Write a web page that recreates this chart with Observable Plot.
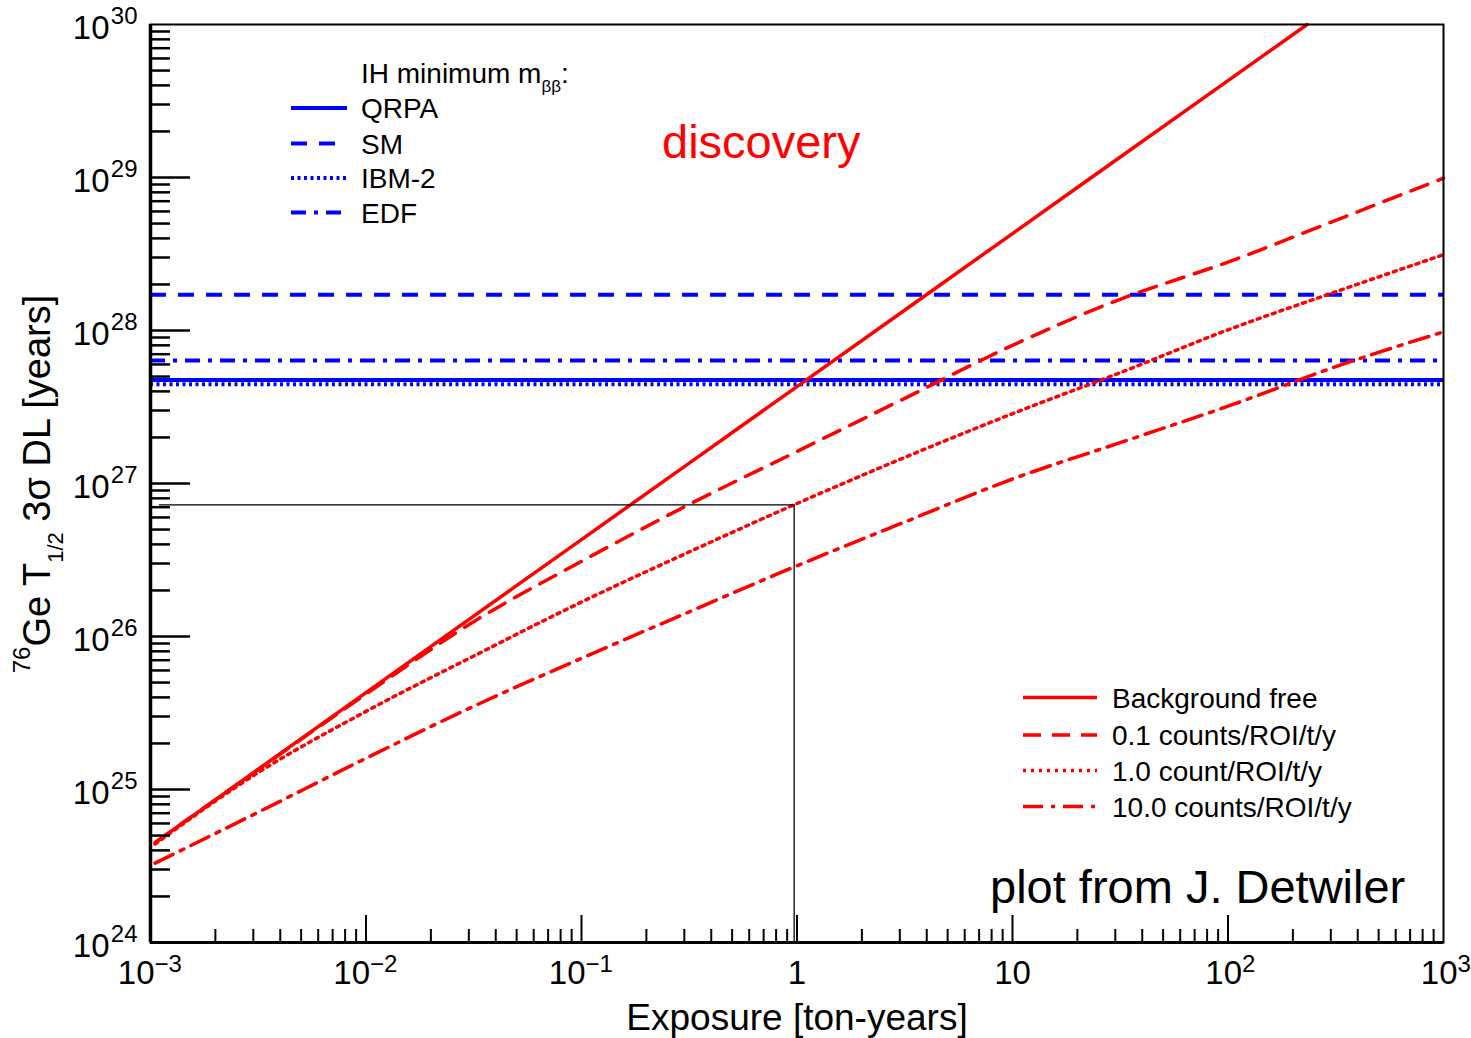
<!DOCTYPE html>
<html><head><meta charset="utf-8">
<script src="https://cdn.jsdelivr.net/npm/d3@7"></script>
<script src="https://cdn.jsdelivr.net/npm/@observablehq/plot@0.6"></script>
<style>
html,body{margin:0;padding:0;background:#fff;}
#chart{position:relative;width:1471px;height:1038px;}
</style></head><body><div id="chart"></div>
<script>
// ---------- data ----------
const exposure = [0.00105, 0.00316, 0.01, 0.0316, 0.1, 0.316, 1, 3.16, 10, 31.6, 100, 316, 1000];
const bgFreeE = [0.00105, 0.01, 0.1, 1, 10, 100, 233];
const bgFreeT = [4.5e24, 4.3e25, 4.3e26, 4.3e27, 4.3e28, 4.3e29, 1e30];
const bg01T = [4.5e24, 1.35e25, 4.2e25, 1.25e26, 3.1e26, 7.3e26, 1.62e27, 3.6e27, 8.0e27, 1.6e28, 2.8e28, 5.25e28, 9.9e28];
const bg1T  = [4.4e24, 1.29e25, 3.24e25, 7.45e25, 1.68e26, 3.57e26, 7.4e26, 1.48e27, 2.86e27, 5.3e27, 1.01e28, 1.79e28, 3.13e28];
const bg10T = [3.3e24, 7.1e24, 1.6e25, 3.5e25, 7.2e25, 1.45e26, 2.9e26, 5.6e26, 1.07e27, 1.85e27, 3.2e27, 5.8e27, 9.8e27];
const bgLabels = ["Background free", "0.1 counts/ROI/t/y", "1.0 count/ROI/t/y", "10.0 counts/ROI/t/y"];
const nmeModels = ["QRPA", "SM", "IBM-2", "EDF"];
const nmeT = [4.75e27, 1.71e28, 4.45e27, 6.37e27];
const guideE = [0.0011, 0.97];
const guideT = [1e24, 7.26e26];
const xDomain = [1e-3, 1e3];
const yDomain = [1e24, 1e30];
const xMajorTicks = [1e-3, 1e-2, 1e-1, 1, 10, 100, 1000];
const xTickBase = ["10", "10", "10", "1", "10", "10", "10"];
const xTickExp = ["−3", "−2", "−1", "", "", "2", "3"];
const yMajorTicks = [1e24, 1e25, 1e26, 1e27, 1e28, 1e29, 1e30];
const yTickExp = ["24", "25", "26", "27", "28", "29", "30"];
const legendTitle = "IH minimum m";
const legendTitleSub = "ββ";
const annotDiscovery = "discovery";
const annotCredit = "plot from J. Detwiler";
const xTitle = "Exposure [ton-years]";

// ---------- layout / style ----------
const W = 1471, H = 1038, mL = 150, mR = 28, mT = 24, mB = 96;
const fw = W - mL - mR, fh = H - mT - mB;
const RED = "#ff0000", BLUE = "#0000ff";
const FONT = "'Liberation Sans', Arial, Helvetica, sans-serif";
const redDash = ["none", "18,11", "3,5", "20,8,4,8"];
const blueDash = ["none", "16,12", "3,3.5", "15,8,4,8"];

const minor = arr => {
  const out = [];
  for (let i = 0; i < arr.length - 1; i++) for (let k = 2; k <= 9; k++) out.push(arr[i] * k);
  return out;
};
const xMinor = minor(xMajorTicks), yMinor = minor(yMajorTicks);

const bgSeries = [
  bgFreeE.map((e, i) => ({E: e, T: bgFreeT[i]})),
  exposure.map((e, i) => ({E: e, T: bg01T[i]})),
  exposure.map((e, i) => ({E: e, T: bg1T[i]})),
  exposure.map((e, i) => ({E: e, T: bg10T[i]}))
];
const xLab = xMajorTicks.map((v, i) => ({v, base: xTickBase[i], exp: xTickExp[i]}));

const marks = [];
nmeModels.forEach((m, i) => {
  marks.push(Plot.ruleY([nmeT[i]], {stroke: BLUE, strokeWidth: 4, strokeDasharray: blueDash[i] === "none" ? undefined : blueDash[i]}));
});
bgSeries.forEach((s, i) => {
  marks.push(Plot.line(s, {x: "E", y: "T", stroke: RED, strokeWidth: 3.5, curve: "monotone-x",
    strokeDasharray: redDash[i] === "none" ? undefined : redDash[i]}));
});
marks.push(Plot.ruleY([guideT[1]], {x1: guideE[0], x2: guideE[1], stroke: "black", strokeWidth: 1.3}));
marks.push(Plot.ruleX([guideE[1]], {y1: guideT[0], y2: guideT[1], stroke: "black", strokeWidth: 1.3}));
marks.push(Plot.frame({stroke: "black", strokeWidth: 2}));
marks.push(Plot.ruleX([xDomain[0]], {stroke: "black", strokeWidth: 3.5}));
marks.push(Plot.ruleY([yDomain[0]], {stroke: "black", strokeWidth: 3}));
marks.push(Plot.ruleX(xMajorTicks.slice(1, -1), {stroke: "black", strokeWidth: 2, insetTop: fh - 27}));
marks.push(Plot.ruleX(xMinor, {stroke: "black", strokeWidth: 2, insetTop: fh - 13}));
marks.push(Plot.ruleY(yMajorTicks.slice(1, -1), {stroke: "black", strokeWidth: 2.5, insetRight: fw - 40}));
marks.push(Plot.ruleY(yMinor, {stroke: "black", strokeWidth: 2.5, insetRight: fw - 20}));
marks.push(Plot.text(yMajorTicks, {y: d => d, frameAnchor: "left", text: () => "10", textAnchor: "end", dx: -41, dy: 4, fontSize: 33, fill: "black"}));
marks.push(Plot.text(yMajorTicks, {y: d => d, frameAnchor: "left", text: (d, i) => yTickExp[i], textAnchor: "end", dx: -13, dy: -8, fontSize: 24, fill: "black"}));
const xNeg = xLab.filter(d => d.exp.startsWith("−"));
const xPos = xLab.filter(d => d.exp !== "" && !d.exp.startsWith("−"));
const xPlain = xLab.filter(d => d.exp === "");
marks.push(Plot.text(xNeg, {x: "v", frameAnchor: "bottom", text: "base", textAnchor: "end", dx: 4, dy: 41, fontSize: 33, fill: "black"}));
marks.push(Plot.text(xNeg, {x: "v", frameAnchor: "bottom", text: "exp", textAnchor: "start", dx: 4, dy: 29, fontSize: 24, fill: "black"}));
marks.push(Plot.text(xPos, {x: "v", frameAnchor: "bottom", text: "base", textAnchor: "end", dx: 14, dy: 41, fontSize: 33, fill: "black"}));
marks.push(Plot.text(xPos, {x: "v", frameAnchor: "bottom", text: "exp", textAnchor: "start", dx: 14, dy: 29, fontSize: 24, fill: "black"}));
marks.push(Plot.text(xPlain, {x: "v", frameAnchor: "bottom", text: "base", textAnchor: "middle", dy: 41, fontSize: 33, fill: "black"}));

const svg = Plot.plot({
  width: W, height: H, marginLeft: mL, marginRight: mR, marginTop: mT, marginBottom: mB,
  x: {type: "log", domain: xDomain, axis: null},
  y: {type: "log", domain: yDomain, axis: null},
  style: {fontFamily: FONT, background: "white", color: "black", overflow: "visible"},
  marks
});
document.getElementById("chart").appendChild(svg);

// ---------- overlay: titles, legends, annotations ----------
const g = d3.select(svg).append("g").attr("font-family", FONT).attr("fill", "black").attr("text-anchor", "start");

g.append("text").attr("x", 797).attr("y", 1030).attr("text-anchor", "middle").attr("font-size", 37).text(xTitle);
const yt = g.append("text").attr("transform", "translate(50,484) rotate(-90)").attr("text-anchor", "middle").attr("font-size", 38);
yt.append("tspan").attr("font-size", 24).attr("dy", -20).text("76");
yt.append("tspan").attr("dy", 20).text("Ge T");
yt.append("tspan").attr("font-size", 22).attr("dy", 13).text("1/2");
yt.append("tspan").attr("dy", -13).text(" 3σ DL [years]");

g.append("text").attr("x", 662).attr("y", 158).attr("font-size", 47).attr("fill", RED).text(annotDiscovery);
g.append("text").attr("x", 990).attr("y", 903).attr("font-size", 47).attr("fill", "black").text(annotCredit);

const lt = g.append("text").attr("x", 361).attr("y", 83).attr("font-size", 28);
lt.append("tspan").text(legendTitle);
lt.append("tspan").attr("font-size", 17).attr("dy", 9).text(legendTitleSub);
lt.append("tspan").attr("dy", -9).text(":");
const blueRows = [108, 143.5, 178, 212.5];
nmeModels.forEach((m, i) => {
  g.append("line").attr("x1", 291).attr("x2", 347).attr("y1", blueRows[i]).attr("y2", blueRows[i])
    .attr("stroke", BLUE).attr("stroke-width", 4).attr("stroke-dasharray", blueDash[i]);
  g.append("text").attr("x", 361).attr("y", blueRows[i] + 10).attr("font-size", 28).text(m);
});
const redRows = [697.5, 735, 770.5, 806.5];
bgLabels.forEach((l, i) => {
  g.append("line").attr("x1", 1023).attr("x2", 1097).attr("y1", redRows[i]).attr("y2", redRows[i])
    .attr("stroke", RED).attr("stroke-width", 3.5).attr("stroke-dasharray", redDash[i]);
  g.append("text").attr("x", 1112).attr("y", redRows[i] + 10).attr("font-size", 28).text(l);
});
</script></body></html>
